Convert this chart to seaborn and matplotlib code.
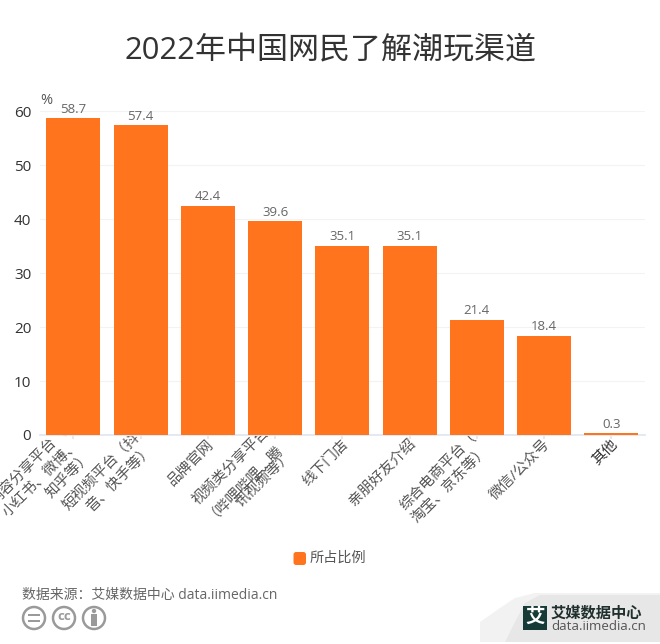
import matplotlib
matplotlib.use("Agg")
import matplotlib.pyplot as plt
from matplotlib.patches import FancyBboxPatch, Circle, Polygon, Rectangle
from matplotlib.transforms import IdentityTransform, ScaledTranslation
import seaborn as sns
import pandas as pd

categories = ["内容分享平台（\n小红书、微博、\n知乎等）", "短视频平台（抖\n音、快手等）", "品牌官网",
              "视频类分享平台\n（哔哩哔哩、腾\n讯视频等）", "线下门店", "亲朋好友介绍",
              "综合电商平台（\n淘宝、京东等）", "微信/公众号", "其他"]
values = [58.7, 57.4, 42.4, 39.6, 35.1, 35.1, 21.4, 18.4, 0.3]
yticks = [0, 10, 20, 30, 40, 50, 60]
series_name = "所占比例"
title = "2022年中国网民了解潮玩渠道"
source = "数据来源：艾媒数据中心 data.iimedia.cn"

sns.set_theme(style="white")
plt.rcParams['font.family'] = ['Open Sans', 'Noto Sans CJK SC', 'DejaVu Sans']

W, H = 660, 644
fig = plt.figure(figsize=(W/100, H/100), dpi=100, facecolor="white")
ax = fig.add_axes([39.7/W, 1-435/H, 605.3/W, 323.7/H])
df = pd.DataFrame({"cat": categories, "val": values})
orange = "#ff741c"
sns.barplot(data=df, x="cat", y="val", color=orange, saturation=1, width=0.803,
            ax=ax, zorder=4, linewidth=0)
ax.set_xlim(-0.5, 8.5)
ax.set_ylim(0, 60)
ax.set_yticks(yticks)
ax.set_xlabel("")
ax.set_ylabel("")
for s in ["top", "right", "left"]:
    ax.spines[s].set_visible(False)
ax.spines["bottom"].set_color("#e0e6f1")
ax.spines["bottom"].set_zorder(1)
ax.grid(axis="y", color="#f3f3f3", lw=0.8)
ax.set_axisbelow(True)
ax.tick_params(axis="y", length=0, labelsize=11, labelcolor="#333333", pad=6)
ax.tick_params(axis="x", length=3, color="#e0e6f1", bottom=True, pad=2)
ax.set_xticks(range(len(categories)))
ax.set_xticklabels(categories, rotation=45, ha="right", va="center", rotation_mode="anchor",
                   fontsize=10.5, color="#555555", linespacing=1.15, multialignment="right")
shift = ScaledTranslation(4/100, 0, fig.dpi_scale_trans)
for lab in ax.get_xticklabels():
    lab.set_transform(lab.get_transform() + shift)
ax.get_xticklabels()[-1].set_color("#333333")
ax.get_xticklabels()[-1].set_fontweight("medium")
for i, v in enumerate(values):
    ax.annotate(f"{v:.1f}", (i, v), xytext=(0, 2), textcoords="offset points",
                ha="center", va="bottom", fontsize=9.5, color="#666666", annotation_clip=False)

fig.text(46/W, 1-100/H, "%", fontsize=10.5, color="#555555", ha="center", va="center")
fig.text(330/W, 1-51/H, title, fontsize=22.3, color="#333333", ha="center", va="center")

# legend
fig.patches.append(FancyBboxPatch((293.5/W, 1-565/H), 12.5/W, 13/H, boxstyle="round,pad=0,rounding_size=0.004",
                                  transform=fig.transFigure, fc=orange, ec="none"))
fig.text(310/W, 1-558/H, series_name, fontsize=10.2, color="#555555", ha="left", va="center")

# source
fig.text(22/W, 1-595/H, source, fontsize=10, color="#666666", ha="left", va="center")

# cc icons
grey = "#9a9a9a"
px = IdentityTransform()
for cx in (34, 64, 94):
    fig.add_artist(Circle((cx, H-618), 11, transform=px, fc="white", ec=grey, lw=1.8))
for yy in (615, 621):
    fig.add_artist(Rectangle((28, H-yy-1), 12, 2, transform=px, fc=grey, ec="none"))
fig.text(64/W, 1-617/H, "cc", fontsize=9.5, color=grey, ha="center", va="center", fontweight="bold")
fig.add_artist(Circle((94, H-611), 2.2, transform=px, fc=grey, ec="none"))
fig.add_artist(Rectangle((91, H-626), 6, 12, transform=px, fc=grey, ec="none"))

# logo band
fig.add_artist(Polygon([(480, H-622), (500, H-608), (515, H-598), (535, H-593), (660, H-593), (660, H-642), (480, H-642)],
                       transform=px, fc="#f2f2f2", ec="none"))
fig.add_artist(Polygon([(505, H-642), (515, H-622), (525, H-603), (540, H-595), (660, H-595), (660, H-642)],
                       transform=px, fc="#e7e7e7", ec="none"))
fig.add_artist(Rectangle((523, H-630), 24, 24, transform=px, fc="#163b36", ec="none"))
fig.text(535/W, 1-618/H, "艾", fontsize=14, color="white", ha="center", va="center", fontweight="bold")
fig.text(551/W, 1-613/H, "艾媒数据中心", fontsize=11, color="#1f2f2d", ha="left", va="center", fontweight="bold")
fig.text(551/W, 1-627/H, "data.iimedia.cn", fontsize=9.6, color="#555555", ha="left", va="center")

fig.savefig("out.png", dpi=100)
